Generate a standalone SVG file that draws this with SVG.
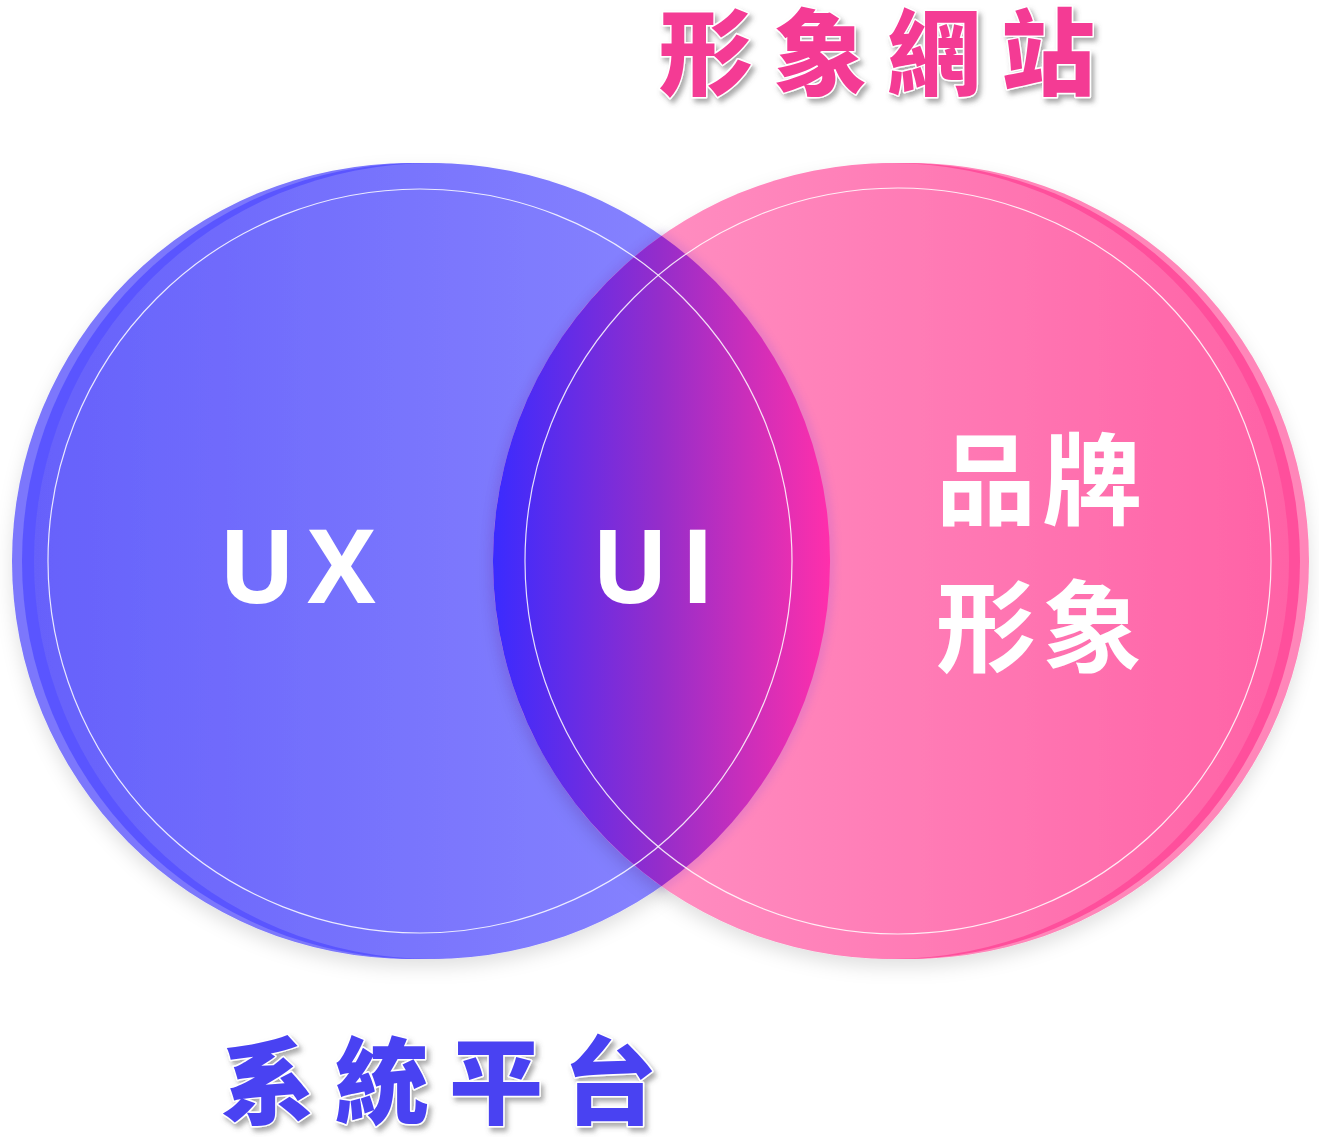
<svg xmlns="http://www.w3.org/2000/svg" width="1319" height="1137" viewBox="0 0 1319 1137">
  <style>
    .lat { font-family: "Open Sans", "Noto Sans", "DejaVu Sans", sans-serif; font-weight: 700; font-size: 102px; fill: #ffffff; letter-spacing: 12px; }
    .cjk { font-family: "Noto Sans CJK TC", "Noto Sans CJK SC", sans-serif; font-weight: 700; font-size: 100px; fill: #ffffff; letter-spacing: 6px; }
    .title { font-family: "Noto Sans CJK TC", "Noto Sans CJK SC", sans-serif; font-weight: 900; font-size: 94px; letter-spacing: 20px; stroke: #ffffff; stroke-width: 3px; paint-order: stroke; stroke-linejoin: round; }
    .ring { fill: none; stroke: #ffffff; stroke-width: 1.2; opacity: 0.85; }
  </style>
  <defs>
    <linearGradient id="gL" gradientUnits="userSpaceOnUse" x1="34" y1="0" x2="830" y2="0">
      <stop offset="0" stop-color="#6661fb"/>
      <stop offset="1" stop-color="#8e8bff"/>
    </linearGradient>
    <linearGradient id="gR" gradientUnits="userSpaceOnUse" x1="493" y1="0" x2="1289" y2="0">
      <stop offset="0" stop-color="#ff98c7"/>
      <stop offset="1" stop-color="#ff62a6"/>
    </linearGradient>
    <linearGradient id="gI" gradientUnits="userSpaceOnUse" x1="493" y1="0" x2="830" y2="0">
      <stop offset="0" stop-color="#3a2bff"/>
      <stop offset="0.5" stop-color="#962dca"/>
      <stop offset="1" stop-color="#ff2fab"/>
    </linearGradient>
    <filter id="shadow" x="-10%" y="-10%" width="120%" height="125%">
      <feDropShadow dx="0" dy="8" stdDeviation="9" flood-color="#000000" flood-opacity="0.12"/>
    </filter>
    <filter id="lensGlow" x="-20%" y="-10%" width="140%" height="120%">
      <feGaussianBlur stdDeviation="5"/>
    </filter>
    <filter id="tshadow" filterUnits="userSpaceOnUse" x="0" y="0" width="1319" height="1137">
      <feDropShadow dx="3" dy="4" stdDeviation="2.5" flood-color="#555555" flood-opacity="0.5"/>
    </filter>
  </defs>

  <g id="circle-ux" filter="url(#shadow)">
    <circle cx="410" cy="561" r="398" fill="#7b77fc"/>
    <circle cx="420" cy="561" r="398" fill="#5a55ff"/>
    <circle cx="432" cy="561" r="398" fill="url(#gL)"/>
  </g>

  <g id="circle-brand" filter="url(#shadow)">
    <circle cx="911" cy="561" r="398" fill="#ff86b9"/>
    <circle cx="902" cy="561" r="398" fill="#ff4f9c"/>
    <circle cx="891" cy="561" r="398" fill="url(#gR)"/>
  </g>

  <g id="intersection-ui">
    <path d="M 661.5 235.8 A 398 398 0 0 0 661.5 886.2 A 398 398 0 0 0 661.5 235.8 Z" fill="none" stroke="#8a4de0" stroke-width="6" opacity="0.3" filter="url(#lensGlow)"/>
    <path d="M 661.5 235.8 A 398 398 0 0 0 661.5 886.2 A 398 398 0 0 0 661.5 235.8 Z" fill="url(#gI)"/>
  </g>

  <g id="rings">
    <circle class="ring" cx="420" cy="561" r="372"/>
    <circle class="ring" cx="898" cy="561" r="373"/>
  </g>

  <g id="labels">
    <text class="lat" x="303" y="603" text-anchor="middle">UX</text>
    <text class="lat" x="659" y="603" text-anchor="middle">UI</text>
    <text class="cjk" x="936" y="517">品牌</text>
    <text class="cjk" x="936" y="664">形象</text>
  </g>

  <g id="title-top" filter="url(#tshadow)">
    <text class="title" x="659" y="88" fill="#f43b94">形象網站</text>
  </g>
  <g id="title-bottom" filter="url(#tshadow)">
    <text class="title" x="221" y="1117" fill="#4a43f2">系統平台</text>
  </g>
</svg>
